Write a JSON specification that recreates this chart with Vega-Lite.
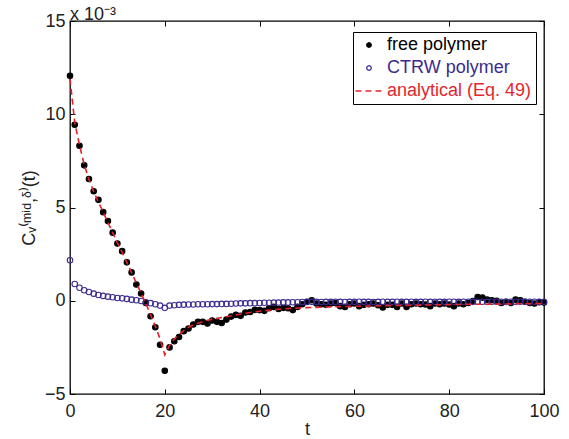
{
  "$schema": "https://vega.github.io/schema/vega-lite/v6.json",
  "width": 474,
  "height": 373,
  "autosize": {"type": "none"},
  "padding": {"left": 70, "top": 21, "right": 25, "bottom": 45},
  "background": "white",
  "title": {"text": "x 10⁻³", "anchor": "start", "frame": "group", "fontSize": 18, "fontWeight": "normal", "font": "Liberation Sans", "color": "#222", "offset": -12},
  "config": {
    "font": "Liberation Sans",
    "view": {"stroke": "black", "strokeWidth": 1.3},
    "axis": {"grid": false, "domain": false, "tickColor": "black", "tickSize": -5, "tickWidth": 1, "labelFlush": false, "labelFont": "Liberation Sans", "labelFontSize": 18, "labelColor": "#222", "titleFont": "Liberation Sans", "titleFontSize": 18, "titleFontWeight": "normal", "titleColor": "#222"},
    "legend": {"orient": "none", "legendX": 283, "legendY": 11, "strokeColor": "black", "padding": 4, "fillColor": "white", "labelFont": "Liberation Sans", "labelFontSize": 18, "rowPadding": 5, "symbolSize": 100, "symbolStrokeWidth": 1.3, "symbolOffset": 3, "labelOffset": 9}
  },
  "datasets": {
    "pts": [
      {"t":0,"v":12.06,"series":"free polymer"},{"t":1,"v":9.44,"series":"free polymer"},{"t":2,"v":8.31,"series":"free polymer"},{"t":3,"v":7.26,"series":"free polymer"},{"t":4,"v":6.53,"series":"free polymer"},{"t":5,"v":5.87,"series":"free polymer"},{"t":6,"v":5.41,"series":"free polymer"},{"t":7,"v":4.75,"series":"free polymer"},{"t":8,"v":4.27,"series":"free polymer"},{"t":9,"v":3.65,"series":"free polymer"},{"t":10,"v":3.07,"series":"free polymer"},{"t":11,"v":2.66,"series":"free polymer"},{"t":12,"v":2.06,"series":"free polymer"},{"t":13,"v":1.52,"series":"free polymer"},{"t":14,"v":0.87,"series":"free polymer"},{"t":15,"v":0.39,"series":"free polymer"},{"t":16,"v":-0.12,"series":"free polymer"},{"t":17,"v":-0.83,"series":"free polymer"},{"t":18,"v":-1.42,"series":"free polymer"},{"t":19,"v":-2.36,"series":"free polymer"},{"t":20,"v":-3.75,"series":"free polymer"},{"t":21,"v":-2.5,"series":"free polymer"},{"t":22,"v":-2.17,"series":"free polymer"},{"t":23,"v":-1.94,"series":"free polymer"},{"t":24,"v":-1.63,"series":"free polymer"},{"t":25,"v":-1.49,"series":"free polymer"},{"t":26,"v":-1.27,"series":"free polymer"},{"t":27,"v":-1.13,"series":"free polymer"},{"t":28,"v":-1.13,"series":"free polymer"},{"t":29,"v":-1.22,"series":"free polymer"},{"t":30,"v":-1.06,"series":"free polymer"},{"t":31,"v":-1.13,"series":"free polymer"},{"t":32,"v":-1.19,"series":"free polymer"},{"t":33,"v":-1.01,"series":"free polymer"},{"t":34,"v":-0.85,"series":"free polymer"},{"t":35,"v":-0.76,"series":"free polymer"},{"t":36,"v":-0.81,"series":"free polymer"},{"t":37,"v":-0.63,"series":"free polymer"},{"t":38,"v":-0.6,"series":"free polymer"},{"t":39,"v":-0.49,"series":"free polymer"},{"t":40,"v":-0.5,"series":"free polymer"},{"t":41,"v":-0.54,"series":"free polymer"},{"t":42,"v":-0.4,"series":"free polymer"},{"t":43,"v":-0.33,"series":"free polymer"},{"t":44,"v":-0.44,"series":"free polymer"},{"t":45,"v":-0.38,"series":"free polymer"},{"t":46,"v":-0.4,"series":"free polymer"},{"t":47,"v":-0.5,"series":"free polymer"},{"t":48,"v":-0.33,"series":"free polymer"},{"t":49,"v":-0.19,"series":"free polymer"},{"t":50,"v":-0.05,"series":"free polymer"},{"t":51,"v":0.03,"series":"free polymer"},{"t":52,"v":-0.15,"series":"free polymer"},{"t":53,"v":-0.19,"series":"free polymer"},{"t":54,"v":-0.22,"series":"free polymer"},{"t":55,"v":-0.15,"series":"free polymer"},{"t":56,"v":-0.12,"series":"free polymer"},{"t":57,"v":-0.29,"series":"free polymer"},{"t":58,"v":-0.33,"series":"free polymer"},{"t":59,"v":-0.19,"series":"free polymer"},{"t":60,"v":-0.15,"series":"free polymer"},{"t":61,"v":-0.29,"series":"free polymer"},{"t":62,"v":-0.22,"series":"free polymer"},{"t":63,"v":-0.19,"series":"free polymer"},{"t":64,"v":-0.15,"series":"free polymer"},{"t":65,"v":-0.24,"series":"free polymer"},{"t":66,"v":-0.36,"series":"free polymer"},{"t":67,"v":-0.22,"series":"free polymer"},{"t":68,"v":-0.22,"series":"free polymer"},{"t":69,"v":-0.33,"series":"free polymer"},{"t":70,"v":-0.15,"series":"free polymer"},{"t":71,"v":-0.33,"series":"free polymer"},{"t":72,"v":-0.19,"series":"free polymer"},{"t":73,"v":-0.15,"series":"free polymer"},{"t":74,"v":-0.19,"series":"free polymer"},{"t":75,"v":-0.2,"series":"free polymer"},{"t":76,"v":-0.29,"series":"free polymer"},{"t":77,"v":-0.15,"series":"free polymer"},{"t":78,"v":-0.19,"series":"free polymer"},{"t":79,"v":-0.15,"series":"free polymer"},{"t":80,"v":-0.2,"series":"free polymer"},{"t":81,"v":-0.29,"series":"free polymer"},{"t":82,"v":-0.15,"series":"free polymer"},{"t":83,"v":-0.19,"series":"free polymer"},{"t":84,"v":-0.12,"series":"free polymer"},{"t":85,"v":-0.01,"series":"free polymer"},{"t":86,"v":0.2,"series":"free polymer"},{"t":87,"v":0.17,"series":"free polymer"},{"t":88,"v":0.06,"series":"free polymer"},{"t":89,"v":0.03,"series":"free polymer"},{"t":90,"v":0.0,"series":"free polymer"},{"t":91,"v":-0.12,"series":"free polymer"},{"t":92,"v":-0.06,"series":"free polymer"},{"t":93,"v":-0.12,"series":"free polymer"},{"t":94,"v":0.06,"series":"free polymer"},{"t":95,"v":0.03,"series":"free polymer"},{"t":96,"v":-0.05,"series":"free polymer"},{"t":97,"v":-0.12,"series":"free polymer"},{"t":98,"v":-0.15,"series":"free polymer"},{"t":99,"v":-0.08,"series":"free polymer"},{"t":100,"v":-0.1,"series":"free polymer"},
      {"t":0,"v":2.17,"series":"CTRW polymer"},{"t":1,"v":0.9,"series":"CTRW polymer"},{"t":2,"v":0.7,"series":"CTRW polymer"},{"t":3,"v":0.56,"series":"CTRW polymer"},{"t":4,"v":0.47,"series":"CTRW polymer"},{"t":5,"v":0.38,"series":"CTRW polymer"},{"t":6,"v":0.31,"series":"CTRW polymer"},{"t":7,"v":0.26,"series":"CTRW polymer"},{"t":8,"v":0.22,"series":"CTRW polymer"},{"t":9,"v":0.19,"series":"CTRW polymer"},{"t":10,"v":0.15,"series":"CTRW polymer"},{"t":11,"v":0.13,"series":"CTRW polymer"},{"t":12,"v":0.1,"series":"CTRW polymer"},{"t":13,"v":0.06,"series":"CTRW polymer"},{"t":14,"v":0.03,"series":"CTRW polymer"},{"t":15,"v":-0.01,"series":"CTRW polymer"},{"t":16,"v":-0.08,"series":"CTRW polymer"},{"t":17,"v":-0.13,"series":"CTRW polymer"},{"t":18,"v":-0.19,"series":"CTRW polymer"},{"t":19,"v":-0.26,"series":"CTRW polymer"},{"t":20,"v":-0.38,"series":"CTRW polymer"},{"t":21,"v":-0.26,"series":"CTRW polymer"},{"t":22,"v":-0.24,"series":"CTRW polymer"},{"t":23,"v":-0.22,"series":"CTRW polymer"},{"t":24,"v":-0.21,"series":"CTRW polymer"},{"t":25,"v":-0.2,"series":"CTRW polymer"},{"t":26,"v":-0.2,"series":"CTRW polymer"},{"t":27,"v":-0.19,"series":"CTRW polymer"},{"t":28,"v":-0.19,"series":"CTRW polymer"},{"t":29,"v":-0.19,"series":"CTRW polymer"},{"t":30,"v":-0.18,"series":"CTRW polymer"},{"t":31,"v":-0.18,"series":"CTRW polymer"},{"t":32,"v":-0.17,"series":"CTRW polymer"},{"t":33,"v":-0.17,"series":"CTRW polymer"},{"t":34,"v":-0.16,"series":"CTRW polymer"},{"t":35,"v":-0.15,"series":"CTRW polymer"},{"t":36,"v":-0.14,"series":"CTRW polymer"},{"t":37,"v":-0.14,"series":"CTRW polymer"},{"t":38,"v":-0.13,"series":"CTRW polymer"},{"t":39,"v":-0.13,"series":"CTRW polymer"},{"t":40,"v":-0.12,"series":"CTRW polymer"},{"t":41,"v":-0.11,"series":"CTRW polymer"},{"t":42,"v":-0.11,"series":"CTRW polymer"},{"t":43,"v":-0.1,"series":"CTRW polymer"},{"t":44,"v":-0.1,"series":"CTRW polymer"},{"t":45,"v":-0.09,"series":"CTRW polymer"},{"t":46,"v":-0.09,"series":"CTRW polymer"},{"t":47,"v":-0.08,"series":"CTRW polymer"},{"t":48,"v":-0.08,"series":"CTRW polymer"},{"t":49,"v":-0.07,"series":"CTRW polymer"},{"t":50,"v":-0.07,"series":"CTRW polymer"},{"t":51,"v":-0.06,"series":"CTRW polymer"},{"t":52,"v":-0.06,"series":"CTRW polymer"},{"t":53,"v":-0.07,"series":"CTRW polymer"},{"t":54,"v":-0.06,"series":"CTRW polymer"},{"t":55,"v":-0.06,"series":"CTRW polymer"},{"t":56,"v":-0.05,"series":"CTRW polymer"},{"t":57,"v":-0.06,"series":"CTRW polymer"},{"t":58,"v":-0.07,"series":"CTRW polymer"},{"t":59,"v":-0.06,"series":"CTRW polymer"},{"t":60,"v":-0.06,"series":"CTRW polymer"},{"t":61,"v":-0.05,"series":"CTRW polymer"},{"t":62,"v":-0.06,"series":"CTRW polymer"},{"t":63,"v":-0.06,"series":"CTRW polymer"},{"t":64,"v":-0.07,"series":"CTRW polymer"},{"t":65,"v":-0.06,"series":"CTRW polymer"},{"t":66,"v":-0.05,"series":"CTRW polymer"},{"t":67,"v":-0.06,"series":"CTRW polymer"},{"t":68,"v":-0.06,"series":"CTRW polymer"},{"t":69,"v":-0.05,"series":"CTRW polymer"},{"t":70,"v":-0.06,"series":"CTRW polymer"},{"t":71,"v":-0.06,"series":"CTRW polymer"},{"t":72,"v":-0.05,"series":"CTRW polymer"},{"t":73,"v":-0.06,"series":"CTRW polymer"},{"t":74,"v":-0.06,"series":"CTRW polymer"},{"t":75,"v":-0.05,"series":"CTRW polymer"},{"t":76,"v":-0.06,"series":"CTRW polymer"},{"t":77,"v":-0.05,"series":"CTRW polymer"},{"t":78,"v":-0.06,"series":"CTRW polymer"},{"t":79,"v":-0.06,"series":"CTRW polymer"},{"t":80,"v":-0.05,"series":"CTRW polymer"},{"t":81,"v":-0.05,"series":"CTRW polymer"},{"t":82,"v":-0.06,"series":"CTRW polymer"},{"t":83,"v":-0.05,"series":"CTRW polymer"},{"t":84,"v":-0.05,"series":"CTRW polymer"},{"t":85,"v":-0.06,"series":"CTRW polymer"},{"t":86,"v":-0.05,"series":"CTRW polymer"},{"t":87,"v":-0.05,"series":"CTRW polymer"},{"t":88,"v":-0.06,"series":"CTRW polymer"},{"t":89,"v":-0.05,"series":"CTRW polymer"},{"t":90,"v":-0.05,"series":"CTRW polymer"},{"t":91,"v":-0.05,"series":"CTRW polymer"},{"t":92,"v":-0.06,"series":"CTRW polymer"},{"t":93,"v":-0.05,"series":"CTRW polymer"},{"t":94,"v":-0.05,"series":"CTRW polymer"},{"t":95,"v":-0.05,"series":"CTRW polymer"},{"t":96,"v":-0.06,"series":"CTRW polymer"},{"t":97,"v":-0.05,"series":"CTRW polymer"},{"t":98,"v":-0.05,"series":"CTRW polymer"},{"t":99,"v":-0.05,"series":"CTRW polymer"},{"t":100,"v":-0.05,"series":"CTRW polymer"}
    ],
    "ana": [
      {"t":0,"v":11.9,"series":"analytical (Eq. 49)"},{"t":1,"v":9.55,"series":"analytical (Eq. 49)"},{"t":2,"v":8.35,"series":"analytical (Eq. 49)"},{"t":3,"v":7.3,"series":"analytical (Eq. 49)"},{"t":4,"v":6.5,"series":"analytical (Eq. 49)"},{"t":5,"v":5.85,"series":"analytical (Eq. 49)"},{"t":6,"v":5.3,"series":"analytical (Eq. 49)"},{"t":7,"v":4.75,"series":"analytical (Eq. 49)"},{"t":8,"v":4.2,"series":"analytical (Eq. 49)"},{"t":9,"v":3.65,"series":"analytical (Eq. 49)"},{"t":10,"v":3.1,"series":"analytical (Eq. 49)"},{"t":11,"v":2.6,"series":"analytical (Eq. 49)"},{"t":12,"v":2.05,"series":"analytical (Eq. 49)"},{"t":13,"v":1.5,"series":"analytical (Eq. 49)"},{"t":14,"v":0.95,"series":"analytical (Eq. 49)"},{"t":15,"v":0.4,"series":"analytical (Eq. 49)"},{"t":16,"v":-0.15,"series":"analytical (Eq. 49)"},{"t":17,"v":-0.75,"series":"analytical (Eq. 49)"},{"t":18,"v":-1.35,"series":"analytical (Eq. 49)"},{"t":19,"v":-2.05,"series":"analytical (Eq. 49)"},{"t":20,"v":-2.9,"series":"analytical (Eq. 49)"},{"t":21,"v":-2.4,"series":"analytical (Eq. 49)"},{"t":22,"v":-2.05,"series":"analytical (Eq. 49)"},{"t":23,"v":-1.8,"series":"analytical (Eq. 49)"},{"t":24,"v":-1.6,"series":"analytical (Eq. 49)"},{"t":25,"v":-1.42,"series":"analytical (Eq. 49)"},{"t":26,"v":-1.3,"series":"analytical (Eq. 49)"},{"t":27,"v":-1.2,"series":"analytical (Eq. 49)"},{"t":28,"v":-1.12,"series":"analytical (Eq. 49)"},{"t":29,"v":-1.05,"series":"analytical (Eq. 49)"},{"t":30,"v":-1.0,"series":"analytical (Eq. 49)"},{"t":32,"v":-0.9,"series":"analytical (Eq. 49)"},{"t":35,"v":-0.76,"series":"analytical (Eq. 49)"},{"t":38,"v":-0.63,"series":"analytical (Eq. 49)"},{"t":40,"v":-0.56,"series":"analytical (Eq. 49)"},{"t":45,"v":-0.43,"series":"analytical (Eq. 49)"},{"t":50,"v":-0.37,"series":"analytical (Eq. 49)"},{"t":55,"v":-0.33,"series":"analytical (Eq. 49)"},{"t":60,"v":-0.3,"series":"analytical (Eq. 49)"},{"t":65,"v":-0.27,"series":"analytical (Eq. 49)"},{"t":70,"v":-0.25,"series":"analytical (Eq. 49)"},{"t":75,"v":-0.23,"series":"analytical (Eq. 49)"},{"t":80,"v":-0.21,"series":"analytical (Eq. 49)"},{"t":85,"v":-0.19,"series":"analytical (Eq. 49)"},{"t":90,"v":-0.18,"series":"analytical (Eq. 49)"},{"t":95,"v":-0.16,"series":"analytical (Eq. 49)"},{"t":100,"v":-0.15,"series":"analytical (Eq. 49)"}
    ]
  },
  "layer": [
    {
      "data": {"name": "pts"},
      "mark": {"type": "point", "filled": true, "strokeWidth": 1.1, "opacity": 1, "size": 150},
      "encoding": {
        "x": {"field": "t", "type": "quantitative", "scale": {"domain": [0, 100], "nice": false, "zero": false}, "axis": {"values": [0, 20, 40, 60, 80, 100], "title": "t", "labelPadding": 13, "titlePadding": 0}},
        "y": {"field": "v", "type": "quantitative", "scale": {"domain": [-5, 15], "nice": false, "zero": false}, "axis": {"values": [-5, 0, 5, 10, 15], "title": "Cᵥ⁽ᵐⁱᵈ,ᵟ⁾(t)", "labelPadding": 10, "titlePadding": 6}},
        "fill": {"field": "series", "type": "nominal", "scale": {"domain": ["free polymer", "CTRW polymer", "analytical (Eq. 49)"], "range": ["black", "transparent", "transparent"]}, "legend": {"title": null, "labelColor": {"expr": "datum.label === 'free polymer' ? 'black' : datum.label === 'CTRW polymer' ? '#3b2b8e' : '#e3262e'"}}},
        "stroke": {"field": "series", "type": "nominal", "scale": {"domain": ["free polymer", "CTRW polymer", "analytical (Eq. 49)"], "range": ["black", "#3b2b8e", "#e3222d"]}, "legend": {"title": null, "labelColor": {"expr": "datum.label === 'free polymer' ? 'black' : datum.label === 'CTRW polymer' ? '#3b2b8e' : '#e3262e'"}}},
        "shape": {"field": "series", "type": "nominal", "scale": {"domain": ["free polymer", "CTRW polymer", "analytical (Eq. 49)"], "range": ["M0.45,0A0.45,0.45,0,1,1,-0.45,0A0.45,0.45,0,1,1,0.45,0Z", "M0.45,0A0.45,0.45,0,1,1,-0.45,0A0.45,0.45,0,1,1,0.45,0Z", "M-2.7,0H2.7"]}, "legend": {"title": null}}
      }
    },
    {
      "data": {"name": "ana"},
      "mark": {"type": "line", "strokeWidth": 1.6},
      "encoding": {
        "x": {"field": "t", "type": "quantitative", "axis": null},
        "y": {"field": "v", "type": "quantitative", "axis": null},
        "stroke": {"field": "series", "type": "nominal", "scale": {"domain": ["free polymer", "CTRW polymer", "analytical (Eq. 49)"], "range": ["black", "#3b2b8e", "#e3222d"]}, "legend": {"title": null}},
        "strokeDash": {"field": "series", "type": "nominal", "scale": {"domain": ["free polymer", "CTRW polymer", "analytical (Eq. 49)"], "range": [[1, 0], [1, 0], [6, 4]]}, "legend": {"title": null}}
      }
    },
    {
      "data": {"name": "ana"},
      "mark": {"type": "line", "opacity": 0},
      "encoding": {
        "x": {"field": "t", "type": "quantitative", "axis": {"orient": "top", "values": [0, 20, 40, 60, 80, 100], "labels": false, "title": null}},
        "y": {"field": "v", "type": "quantitative", "axis": {"orient": "right", "values": [-5, 0, 5, 10, 15], "labels": false, "title": null}}
      }
    }
  ],
  "resolve": {"axis": {"x": "independent", "y": "independent"}}
}
